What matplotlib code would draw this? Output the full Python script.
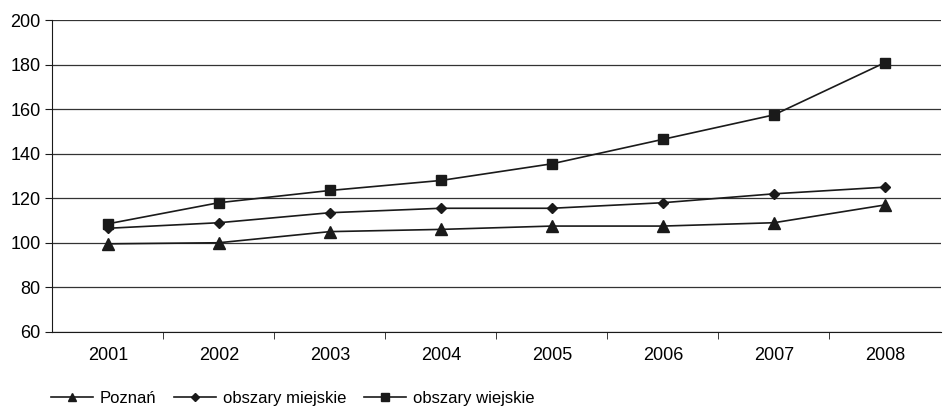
import matplotlib.pyplot as plt

plt.rcParams['font.family'] = ['Liberation Sans', 'DejaVu Sans']

years = ["2001", "2002", "2003", "2004", "2005", "2006", "2007", "2008"]
poznan = [99.5, 100, 105, 106, 107.5, 107.5, 109, 117]
miejskie = [106.5, 109, 113.5, 115.5, 115.5, 118, 122, 125]
wiejskie = [108.5, 118, 123.5, 128, 135.5, 146.5, 157.5, 181]

col = "#1a1a1a"

fig = plt.figure(figsize=(9.5, 4.07), dpi=100)
ax = fig.add_axes([0.055, 0.185, 0.935, 0.765])

x = list(range(len(years)))
ax.plot(x, poznan, color=col, lw=1.2, marker="^", ms=8, label="Poznań")
ax.plot(x, miejskie, color=col, lw=1.2, marker="D", ms=5.5, label="obszary miejskie")
ax.plot(x, wiejskie, color=col, lw=1.2, marker="s", ms=7, label="obszary wiejskie")

ax.set_ylim(60, 200)
ax.set_yticks(range(60, 201, 20))
ax.set_xlim(-0.5, len(years) - 0.5)
ax.set_xticks(x)
ax.set_xticklabels(years)
ax.set_xticks([i + 0.5 for i in range(len(years) - 1)], minor=True)
ax.tick_params(axis="x", which="major", length=0, pad=11, labelsize=13)
ax.tick_params(axis="x", which="minor", length=5, color=col)
ax.tick_params(axis="y", length=5, labelsize=13, color=col)
ax.grid(axis="y", color="#333333", lw=0.9)
ax.set_axisbelow(True)
for s in ["top", "right"]:
    ax.spines[s].set_visible(False)
for s in ["left", "bottom"]:
    ax.spines[s].set_color(col)

fig.legend(loc="lower left", bbox_to_anchor=(0.038, -0.035), ncol=3, frameon=False,
           fontsize=12, handlelength=2.5, columnspacing=1.1, handletextpad=0.4,
           markerscale=0.75)

fig.savefig("out.png")
